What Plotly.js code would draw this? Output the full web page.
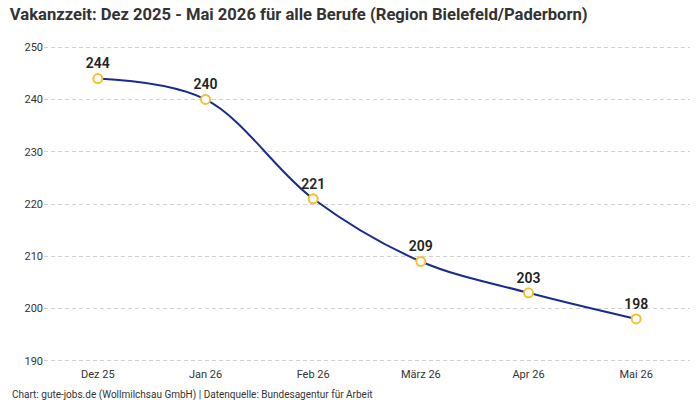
<!DOCTYPE html>
<html>
<head>
<meta charset="utf-8">
<script src="https://cdn.plot.ly/plotly-3.0.1.min.js"></script>
<style>
  html, body { margin: 0; padding: 0; background: #fff; }
  #chart { width: 700px; height: 400px; }
</style>
</head>
<body>
<div id="chart"></div>
<script>
// Monthly vacancy duration (days), Bielefeld/Paderborn region
const months = ["Dez 25", "Jan 26", "Feb 26", "März 26", "Apr 26", "Mai 26"];
const vacancyDays = [244, 240, 221, 209, 203, 198];
const yTicks = [190, 200, 210, 220, 230, 240, 250];

const FONT = "Roboto, 'Noto Sans', sans-serif";

const trace = {
  x: months,
  y: vacancyDays,
  type: "scatter",
  mode: "lines+markers+text",
  line: { color: "#1a2b8f", width: 2, shape: "spline", smoothing: 1 },
  marker: {
    symbol: "circle",
    size: 9,
    color: "#ffffff",
    line: { color: "#f6c12e", width: 2 }
  },
  text: vacancyDays.map(String),
  textposition: "top center",
  textfont: { family: FONT, size: 14, color: "#222222", weight: 600 },
  cliponaxis: false,
  hoverinfo: "x+y"
};

const layout = {
  width: 700,
  height: 400,
  paper_bgcolor: "#ffffff",
  plot_bgcolor: "#ffffff",
  margin: { l: 44, r: 10, t: 42, b: 34 },
  showlegend: false,
  title: {
    text: "<b>Vakanzzeit: Dez 2025 - Mai 2026 für alle Berufe (Region Bielefeld/Paderborn)</b>",
    x: 0.014, xanchor: "left",
    y: 0.978, yanchor: "top",
    font: { family: FONT, size: 16.6, color: "#333333" }
  },
  xaxis: {
    type: "category",
    range: [-0.5, 5.5],
    showgrid: false,
    zeroline: false,
    showline: false,
    ticks: "",
    tickfont: { family: FONT, size: 11, color: "#333333" }
  },
  yaxis: {
    range: [189, 251],
    tickvals: yTicks,
    ticktext: yTicks.map(String),
    showgrid: true,
    gridcolor: "#d0d0d0",
    griddash: "4px,3px",
    gridwidth: 1,
    zeroline: false,
    showline: false,
    ticks: "",
    tickfont: { family: FONT, size: 11, color: "#333333" }
  },
  annotations: [{
    text: "Chart: gute-jobs.de (Wollmilchsau GmbH) | Datenquelle: Bundesagentur für Arbeit",
    xref: "paper", yref: "paper",
    x: -0.052, y: -0.064,
    xanchor: "left", yanchor: "top",
    showarrow: false,
    font: { family: FONT, size: 10, color: "#333333" }
  }]
};

Plotly.newPlot("chart", [trace], layout, { displayModeBar: false, staticPlot: true });
</script>
</body>
</html>
